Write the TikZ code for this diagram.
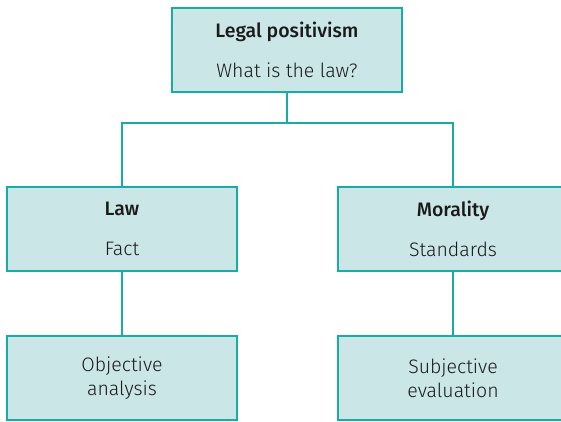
\documentclass[tikz,border=0pt]{standalone}
\usepackage{fontspec}
\setmainfont{Fira Sans Light}[BoldFont={Fira Sans Medium}]
\definecolor{boxfill}{HTML}{CAE6E6}
\definecolor{boxline}{HTML}{17ACA4}
\definecolor{txt}{HTML}{1A1A1A}
\begin{document}
\begin{tikzpicture}[x=1pt,y=-1pt,
  box/.style={draw=boxline, fill=boxfill, line width=2.6pt,
    minimum width=230pt, minimum height=84pt, inner sep=0pt,
    align=center, text=txt, font=\fontsize{19.5}{24}\selectfont},
  link/.style={draw=boxline, line width=2pt}]
\useasboundingbox (0,0) rectangle (561,422);
% tree structure
\node[box] (top) at (287,50) {\textbf{Legal positivism}\\[16pt]What is the law?};
\node[box] (law) at (122,229) {\textbf{Law}\\[16pt]Fact};
\node[box] (mor) at (453,229) {\textbf{Morality}\\[16pt]Standards};
\node[box] (obj) at (122,378) {Objective\\analysis};
\node[box] (sub) at (453,378) {Subjective\\evaluation};
% connectors
\coordinate (mid) at (287,123);
\draw[link] (top.south) -- (mid);
\draw[link] (law.north) |- (mid) -| (mor.north);
\draw[link] (law.south) -- (obj.north);
\draw[link] (mor.south) -- (sub.north);
\end{tikzpicture}
\end{document}
